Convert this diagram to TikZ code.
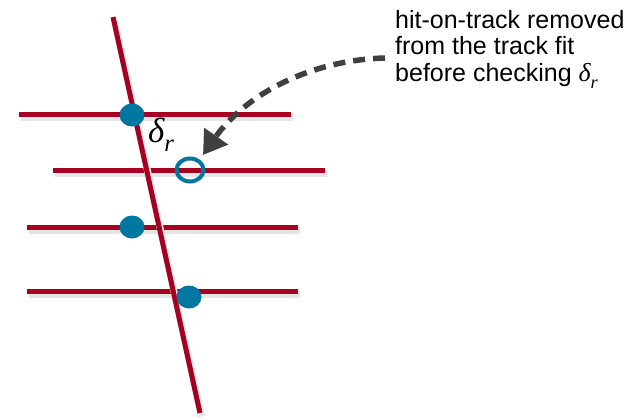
\documentclass[tikz,border=0pt]{standalone}
\usepackage{fontspec}
\setmainfont{Liberation Sans}
\newfontfamily\serifgreek{Liberation Serif}
\usetikzlibrary{arrows.meta,shapes.geometric}
\definecolor{trackred}{HTML}{A50021}
\definecolor{hitblue}{HTML}{0077A0}
\definecolor{notegray}{HTML}{404040}
\newcommand{\deltar}{{\serifgreek\itshape δ}\raisebox{-.28em}{\scalebox{.7}{\serifgreek\itshape r}}}
\tikzset{
  wire/.style={trackred,line width=5pt,
    preaction={draw=black!10,line width=7pt,transform canvas={shift={(1.5pt,-3.5pt)}}}},
  hit/.style={ellipse,fill=hitblue,minimum width=25pt,minimum height=23pt,inner sep=0pt},
  openhit/.style={ellipse,draw=hitblue,line width=4pt,minimum width=27pt,minimum height=23pt,inner sep=0pt},
}
\begin{document}
\begin{tikzpicture}[x=1pt,y=-1pt,every node/.style={font=\fontsize{25}{26.5}\selectfont}]
\useasboundingbox (0,0) rectangle (632,420);
% detector layers
\coordinate (l1a) at (19,114);  \coordinate (l1b) at (291,114);
\coordinate (l2a) at (53,170);  \coordinate (l2b) at (325,170);
\coordinate (l3a) at (27,227);  \coordinate (l3b) at (298,227);
\coordinate (l4a) at (27,291);  \coordinate (l4b) at (298,291);
\draw[wire] (l1a) -- (l1b);
\draw[wire] (l2a) -- (l2b);
\draw[wire] (l3a) -- (l3b);
\draw[wire] (l4a) -- (l4b);
% track
\coordinate (trk1) at (113,17);
\coordinate (trk2) at (200,413);
\draw[wire] (trk1) -- (trk2);
% hits
\node[hit] (h1) at (132,115) {};
\node[openhit] (h2) at (190,170) {};
\node[hit] (h3) at (132,227) {};
\node[hit] (h4) at (189,297) {};
\node[anchor=base west,inner sep=0pt,font=\fontsize{35}{35}\selectfont] (dr) at (148,142) {\deltar};
% note
\node[anchor=north west,inner sep=0pt,align=left] (note) at (395,10)
  {hit-on-track removed\\from the track fit\\before checking {\fontsize{26}{26}\selectfont\deltar}};
\coordinate (nstart) at (385,58);
\coordinate (ntip) at (203,155);
\draw[notegray,line width=5.5pt,dash pattern=on 12pt off 8pt,
  -{Triangle[length=23pt,width=28pt]}]
  (nstart) .. controls (310,60) and (245,95) .. (ntip);
\end{tikzpicture}
\end{document}
